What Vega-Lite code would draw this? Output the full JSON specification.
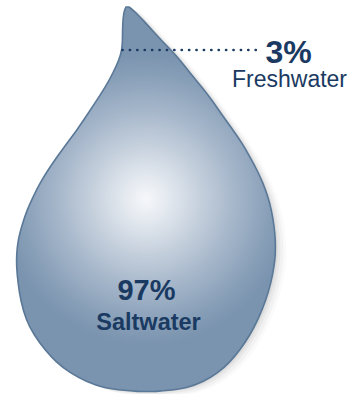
{
  "$schema": "https://vega.github.io/schema/vega-lite/v6.json",
  "width": 356,
  "height": 394,
  "autosize": {"type": "none"},
  "padding": 0,
  "background": "white",
  "config": {
    "view": {"stroke": null},
    "text": {"font": "Liberation Sans", "color": "#1a3a62"}
  },
  "datasets": {
    "outline": [
      {"y": 7, "left": 126, "right": 129},
      {"y": 10, "left": 124.5, "right": 133},
      {"y": 15, "left": 123.5, "right": 138},
      {"y": 20, "left": 123, "right": 143},
      {"y": 30, "left": 122.5, "right": 152},
      {"y": 40, "left": 122.5, "right": 161},
      {"y": 50, "left": 122, "right": 171},
      {"y": 60, "left": 119, "right": 180},
      {"y": 73, "left": 113, "right": 190},
      {"y": 86, "left": 106, "right": 201},
      {"y": 100, "left": 97, "right": 212},
      {"y": 115, "left": 87, "right": 222},
      {"y": 130, "left": 77, "right": 233},
      {"y": 143, "left": 67, "right": 242},
      {"y": 157, "left": 57, "right": 250},
      {"y": 170, "left": 48, "right": 257},
      {"y": 183, "left": 40, "right": 263},
      {"y": 197, "left": 33, "right": 268},
      {"y": 210, "left": 27, "right": 271.5},
      {"y": 225, "left": 22, "right": 274},
      {"y": 240, "left": 18, "right": 275.5},
      {"y": 255, "left": 16.5, "right": 275.5},
      {"y": 267, "left": 16.5, "right": 274},
      {"y": 283, "left": 18, "right": 271},
      {"y": 300, "left": 20.5, "right": 266},
      {"y": 320, "left": 26, "right": 258},
      {"y": 335, "left": 34, "right": 250},
      {"y": 350, "left": 45, "right": 240},
      {"y": 362, "left": 56, "right": 230},
      {"y": 373, "left": 70, "right": 218},
      {"y": 382, "left": 87, "right": 203},
      {"y": 388, "left": 104, "right": 187},
      {"y": 390.5, "left": 125, "right": 168},
      {"y": 391.5, "left": 140, "right": 154}
    ],
    "shares": [
      {"water": "Saltwater", "share": 0.97},
      {"water": "Freshwater", "share": 0.03}
    ]
  },
  "layer": [
    {
      "data": {"name": "outline"},
      "layer": [
        {"mark": {"type": "area", "orient": "horizontal", "interpolate": "basis", "fill": "#000000", "fillOpacity": 0.02, "xOffset": 11, "x2Offset": 11, "yOffset": 5}},
        {"mark": {"type": "area", "orient": "horizontal", "interpolate": "basis", "fill": "#000000", "fillOpacity": 0.03, "xOffset": 8, "x2Offset": 8, "yOffset": 4}},
        {"mark": {"type": "area", "orient": "horizontal", "interpolate": "basis", "fill": "#000000", "fillOpacity": 0.04, "xOffset": 5, "x2Offset": 5, "yOffset": 2.5}},
        {"mark": {"type": "area", "orient": "horizontal", "interpolate": "basis", "fill": "#000000", "fillOpacity": 0.05, "xOffset": 2.5, "x2Offset": 2.5, "yOffset": 1.2}},
        {
          "mark": {
            "type": "area",
            "orient": "horizontal",
            "interpolate": "basis",
            "stroke": "#5a7897",
            "strokeWidth": 1.6,
            "fill": {
              "gradient": "radial",
              "x1": 0.5, "y1": 0.5, "r1": 0,
              "x2": 0.5, "y2": 0.5, "r2": 0.38,
              "stops": [
                {"offset": 0, "color": "#f6f7fa"},
                {"offset": 0.14, "color": "#e5eaf0"},
                {"offset": 0.38, "color": "#c4cfdc"},
                {"offset": 0.62, "color": "#a4b5c9"},
                {"offset": 0.85, "color": "#889fb8"},
                {"offset": 1, "color": "#7a93ae"}
              ]
            }
          }
        }
      ],
      "encoding": {
        "y": {"field": "y", "type": "quantitative", "scale": {"domain": [394, 0], "nice": false, "zero": false}, "axis": null},
        "x": {"field": "left", "type": "quantitative", "scale": {"domain": [0, 356], "nice": false, "zero": false}, "axis": null},
        "x2": {"field": "right"}
      }
    },
    {
      "data": {"name": "shares"},
      "transform": [{"filter": "datum.water === 'Freshwater'"}],
      "layer": [
        {
          "mark": {"type": "rule", "color": "#1a3a62", "strokeWidth": 2.7, "strokeCap": "round", "strokeDash": [0.1, 7.3]},
          "encoding": {
            "y": {"datum": 50, "type": "quantitative"},
            "x": {"datum": 122.5, "type": "quantitative"},
            "x2": {"datum": 257}
          }
        },
        {
          "mark": {"type": "text", "fontSize": 32, "fontWeight": "bold", "align": "center", "baseline": "alphabetic"},
          "encoding": {
            "x": {"datum": 288.5, "type": "quantitative"},
            "y": {"datum": 63.3, "type": "quantitative"},
            "text": {"field": "share", "type": "quantitative", "format": ".0%"}
          }
        },
        {
          "mark": {"type": "text", "fontSize": 23, "align": "center", "baseline": "alphabetic"},
          "encoding": {
            "x": {"datum": 289.5, "type": "quantitative"},
            "y": {"datum": 87.3, "type": "quantitative"},
            "text": {"field": "water", "type": "nominal"}
          }
        }
      ]
    },
    {
      "data": {"name": "shares"},
      "transform": [{"filter": "datum.water === 'Saltwater'"}],
      "layer": [
        {
          "mark": {"type": "text", "fontSize": 29, "fontWeight": "bold", "align": "center", "baseline": "alphabetic"},
          "encoding": {
            "x": {"datum": 146.5, "type": "quantitative"},
            "y": {"datum": 300, "type": "quantitative"},
            "text": {"field": "share", "type": "quantitative", "format": ".0%"}
          }
        },
        {
          "mark": {"type": "text", "fontSize": 23.5, "fontWeight": "bold", "align": "center", "baseline": "alphabetic"},
          "encoding": {
            "x": {"datum": 148.5, "type": "quantitative"},
            "y": {"datum": 329.5, "type": "quantitative"},
            "text": {"field": "water", "type": "nominal"}
          }
        }
      ]
    }
  ]
}
